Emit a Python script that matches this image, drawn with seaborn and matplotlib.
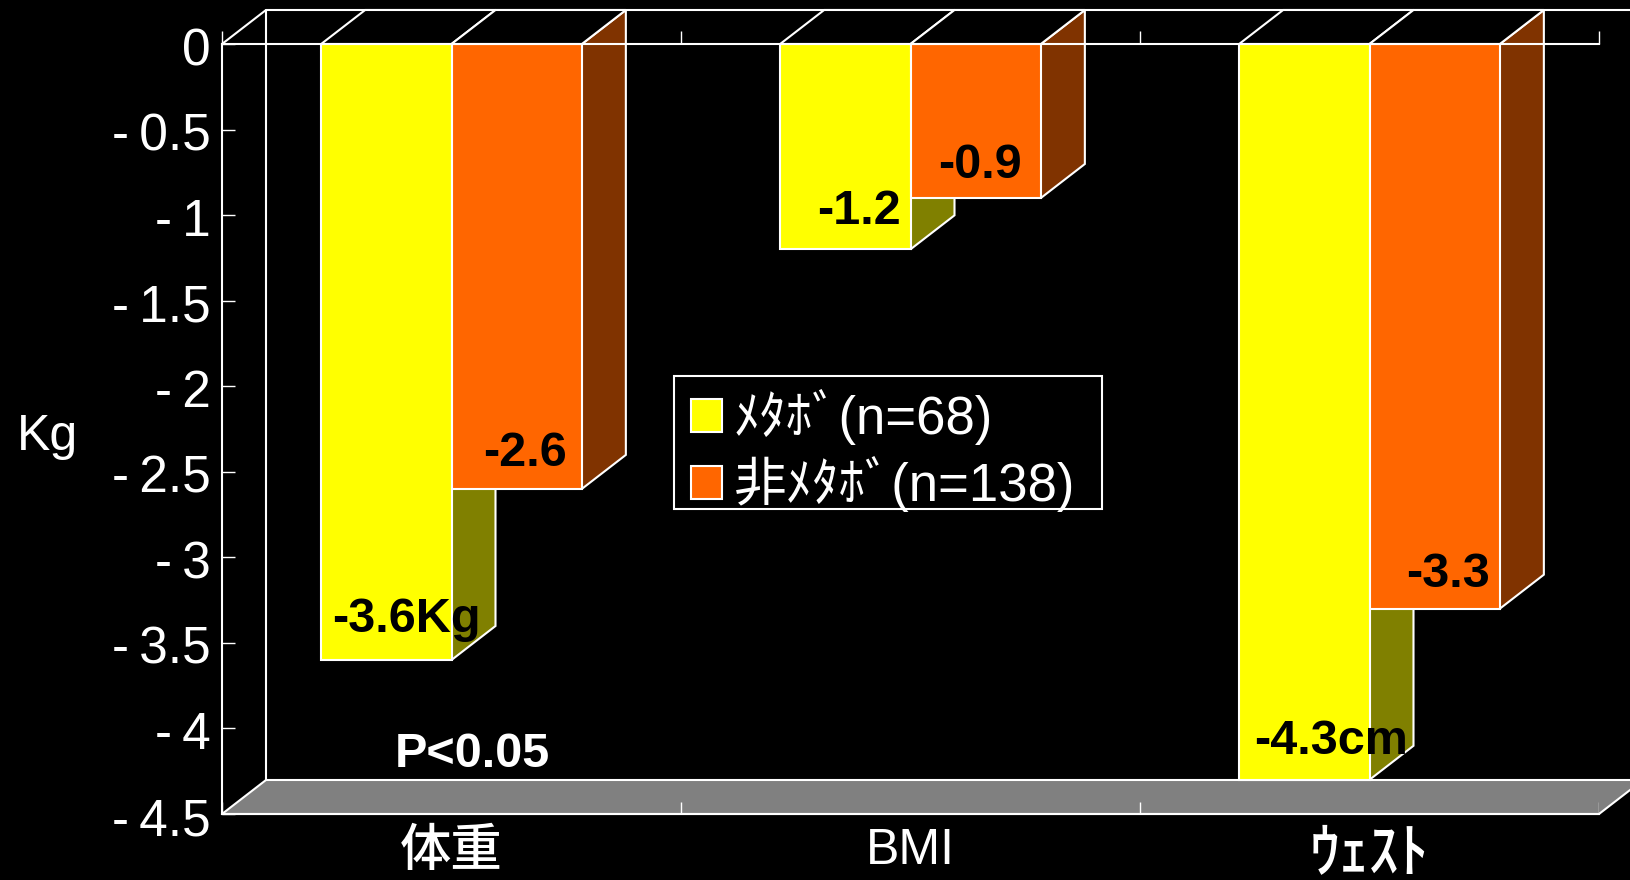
import matplotlib
matplotlib.use("Agg")
import matplotlib.pyplot as plt
from matplotlib.patches import Rectangle
from matplotlib.transforms import ScaledTranslation
import pandas as pd
import seaborn as sns

# Data
categories = ["体重", "BMI", "ｳｪｽﾄ"]
groups = ["ﾒﾀﾎﾞ(n=68)", "非ﾒﾀﾎﾞ(n=138)"]
metabo = [-3.6, -1.2, -4.3]
non_metabo = [-2.6, -0.9, -3.3]
metabo_labels = ["-3.6Kg", "-1.2", "-4.3cm"]
non_metabo_labels = ["-2.6", "-0.9", "-3.3"]
y_ticks = [0, -0.5, -1, -1.5, -2, -2.5, -3, -3.5, -4, -4.5]
y_tick_labels = ["0", "-\u20090.5", "-\u20091", "-\u20091.5", "-\u20092", "-\u20092.5",
                 "-\u20093", "-\u20093.5", "-\u20094", "-\u20094.5"]

df = pd.DataFrame({
    "category": categories * 2,
    "group": [groups[0]] * 3 + [groups[1]] * 3,
    "value": metabo + non_metabo,
})

sns.set_theme(style="dark", rc={"axes.facecolor": "black", "figure.facecolor": "black"})
plt.rcParams["font.family"] = ["Liberation Sans", "Noto Sans CJK JP"]

fig = plt.figure(figsize=(16.3, 8.8), dpi=100)
ax = fig.add_axes([222 / 1630, 1 - 814 / 880, 1377 / 1630, 770 / 880])

sns.barplot(
    data=df, x="category", y="value", hue="group", order=categories, hue_order=groups,
    palette=["#ffff00", "#ff6600"], saturation=1, width=0.568, gap=0,
    edgecolor="white", linewidth=1.5, ax=ax,
)

ax.set_xlim(-0.5, 2.5)
ax.set_ylim(-4.5, 0)

# pseudo 3D depth, in data units
depth_x = 44 / 459
depth_y = 34 / 171.1
left, right = -0.5, 2.5
bottom = -4.5

# back wall and floor
ax.plot([left, left + depth_x, right + depth_x + 1], [0, depth_y, depth_y],
        color="white", lw=1.5, clip_on=False, zorder=0.5)
ax.plot([left + depth_x, left + depth_x], [depth_y, bottom + depth_y],
        color="white", lw=1.5, clip_on=False, zorder=0.5)
ax.fill([left, right, right + depth_x, left + depth_x],
        [bottom, bottom, bottom + depth_y, bottom + depth_y],
        facecolor="#808080", edgecolor="white", lw=1.5, clip_on=False, zorder=0.6)

# side and top faces of each bar
side_colors = ["#808000", "#803300"]
for container, side in zip(ax.containers, side_colors):
    for bar in container:
        x0 = bar.get_x()
        x1 = x0 + bar.get_width()
        v = bar.get_height()
        ax.fill([x1, x1 + depth_x, x1 + depth_x, x1], [0, depth_y, v + depth_y, v],
                facecolor=side, edgecolor="white", lw=1.5, clip_on=False, zorder=0.8)
        ax.fill([x0, x1, x1 + depth_x, x0 + depth_x], [0, 0, depth_y, depth_y],
                facecolor="black", edgecolor="white", lw=1.5, clip_on=False, zorder=0.8)

# axes lines and ticks
for name in ["left", "bottom", "top"]:
    ax.spines[name].set_visible(True)
    ax.spines[name].set_color("white")
    ax.spines[name].set_linewidth(1.5)
ax.spines["right"].set_visible(False)

ax.set_yticks(y_ticks)
ax.set_yticklabels(y_tick_labels)
ax.tick_params(axis="y", direction="in", left=True, length=9, width=1, color="white",
               labelcolor="white", labelsize=37, pad=8)
nudge = ScaledTranslation(0, -2 / 100, fig.dpi_scale_trans)
for label in ax.get_yticklabels():
    label.set_transform(label.get_transform() + nudge)

ax.tick_params(axis="x", which="major", length=0, labelcolor="white", labelsize=36, pad=10)
x_labels = ax.get_xticklabels()
x_labels[0].set_fontsize(37)
x_labels[0].set_fontweight("medium")
x_labels[2].set_fontsize(43)
x_labels[2].set_fontweight("medium")

boundaries = [-0.5, 0.5, 1.5, 2.5]
ax.vlines(boundaries, 0, 13 / 171.1, color="white", lw=1, clip_on=False)
ax.vlines(boundaries, bottom, bottom + 12 / 171.1, color="white", lw=1, zorder=3)

ax.set_xlabel("")
ax.set_ylabel("Kg", rotation=0, color="white", fontsize=36, va="center", ha="center")
ax.yaxis.set_label_coords(-0.127, 0.49)

# value labels, offsets in pixels from the bar's lower right corner
metabo_offsets = [(29, 41), (-10, 38), (38, 38)]
non_metabo_offsets = [(-15, 35), (-19, 32), (-10, 34)]
for container, labels, offsets in zip(ax.containers, [metabo_labels, non_metabo_labels],
                                      [metabo_offsets, non_metabo_offsets]):
    for bar, label, offset in zip(container, labels, offsets):
        ax.annotate(label, xy=(bar.get_x() + bar.get_width(), bar.get_height()),
                    xytext=offset, textcoords="offset pixels", ha="right", va="center",
                    color="black", fontsize=35, fontweight="bold", zorder=5)

ax.text(0.046, -4.15, "P<0.05", color="white", fontsize=35, fontweight="bold",
        ha="center", va="center")

# legend box is drawn apart, the CJK line height would make the frame too tall
ax.add_patch(Rectangle((674 / 1630, 1 - 509 / 880), 428 / 1630, 133 / 880,
                       transform=fig.transFigure, facecolor="black", edgecolor="white",
                       lw=1.5, clip_on=False, zorder=5))
leg = ax.legend(
    loc="upper left", bbox_to_anchor=(677.5 / 1630, 1 - 376 / 880),
    bbox_transform=fig.transFigure,
    fontsize=38, frameon=False,
    handlelength=0.59, handleheight=0.59, handletextpad=0.22, labelspacing=0.2,
    borderpad=0.25, borderaxespad=0, labelcolor="white",
)
leg.set_zorder(6)

fig.savefig("out.png", dpi=100)
